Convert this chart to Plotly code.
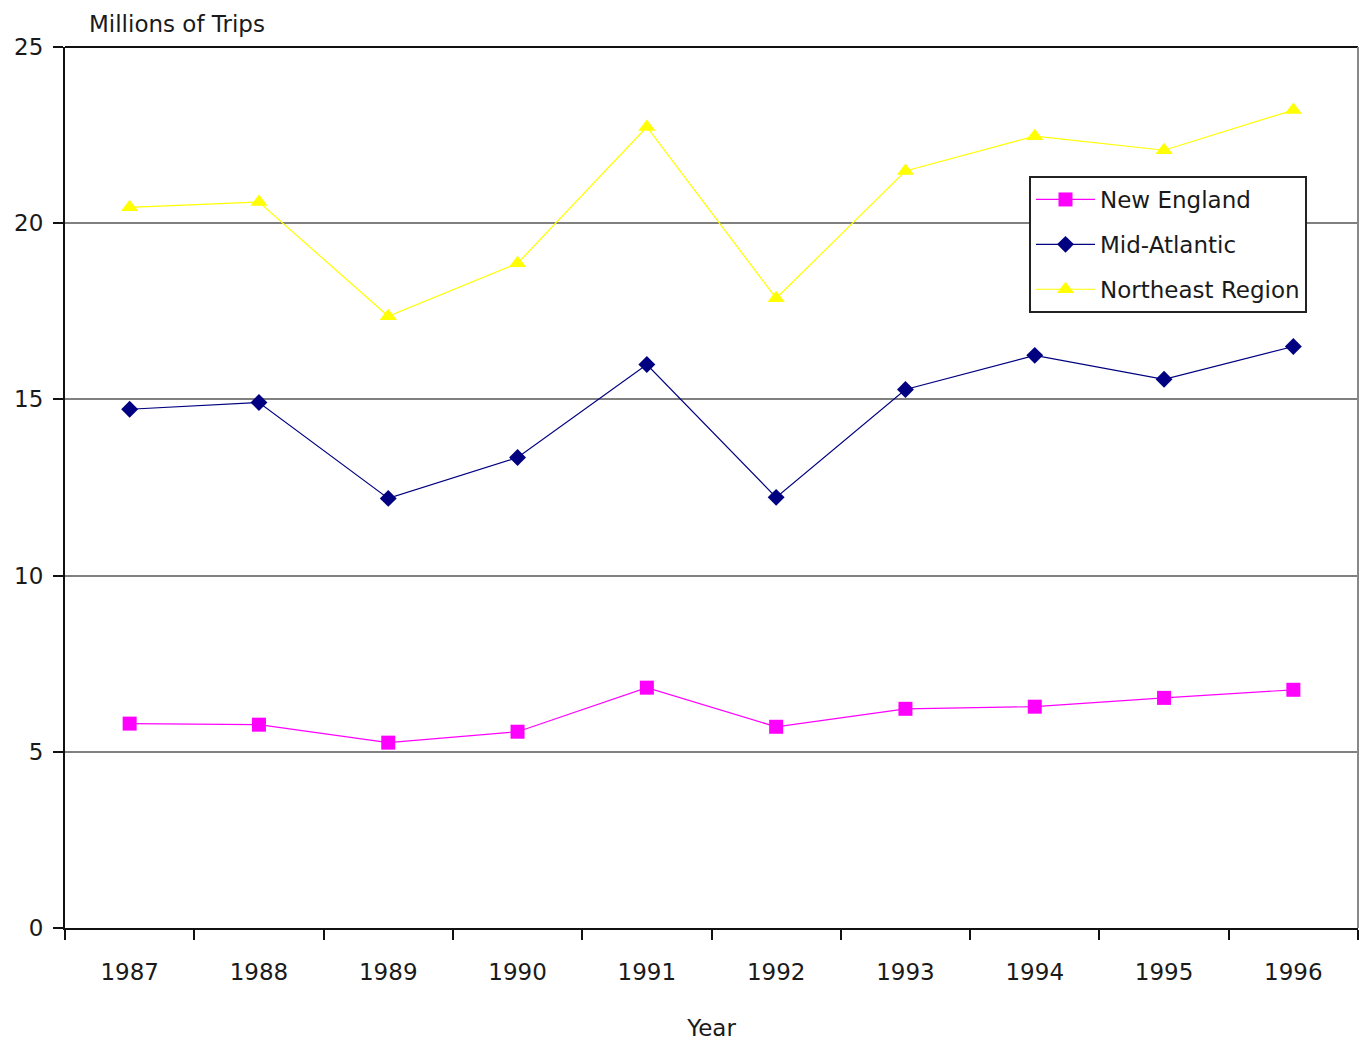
import plotly.graph_objects as go

years = ["1987", "1988", "1989", "1990", "1991", "1992", "1993", "1994", "1995", "1996"]
new_england = [5.80, 5.77, 5.26, 5.57, 6.82, 5.71, 6.22, 6.28, 6.53, 6.76]
mid_atlantic = [14.72, 14.91, 12.19, 13.35, 15.99, 12.22, 15.28, 16.25, 15.57, 16.50]
northeast = [20.45, 20.60, 17.36, 18.86, 22.73, 17.87, 21.48, 22.47, 22.07, 23.21]
y_ticks = [0, 5, 10, 15, 20, 25]

FONT = "DejaVu Sans"
TXT = "#1a1a1a"

fig = go.Figure()
fig.add_trace(go.Scatter(
    x=years, y=new_england, name="New England", mode="lines+markers",
    line=dict(color="#FF00FF", width=1.2),
    marker=dict(symbol="square", size=14, color="#FF00FF"),
    legendgroup="a",
))
fig.add_trace(go.Scatter(
    x=years, y=mid_atlantic, name="Mid-Atlantic", mode="lines+markers",
    line=dict(color="#000080", width=1.2),
    marker=dict(symbol="diamond", size=13, color="#000080"),
    legendgroup="b",
))
fig.add_trace(go.Scatter(
    x=years, y=northeast, name="Northeast Region", mode="lines+markers",
    line=dict(color="#FFFF00", width=1.2),
    marker=dict(symbol="triangle-up", size=15, color="#FFFF00"),
    legendgroup="c",
))

fig.update_layout(
    width=1364, height=1042,
    margin=dict(l=65, r=6, t=47, b=114),
    paper_bgcolor="white", plot_bgcolor="white",
    font=dict(family=FONT, size=23, color=TXT),
    showlegend=True,
    legend=dict(
        x=(1029 - 65) / 1293, y=(928 - 176) / 881, xanchor="left", yanchor="top",
        bgcolor="white", bordercolor="#222222", borderwidth=2,
        font=dict(family=FONT, size=23, color=TXT),
        traceorder="grouped", tracegroupgap=12,
        itemwidth=59,
    ),
    xaxis=dict(
        type="category", categoryorder="array", categoryarray=years,
        showline=True, linecolor="#111111", linewidth=2, mirror=False,
        ticks="outside", tickson="boundaries", ticklen=10, tickcolor="#111111", tickwidth=2,
        showgrid=False, zeroline=False,
        tickfont=dict(family=FONT, size=23, color=TXT),
        ticklabelstandoff=22,
        title=dict(text="Year", font=dict(family=FONT, size=23, color=TXT), standoff=36),
        range=[-0.5, 9.5],
    ),
    yaxis=dict(
        range=[0, 25], tickvals=y_ticks,
        showline=True, linecolor="#111111", linewidth=2,
        ticks="outside", ticklen=10, tickcolor="#111111", tickwidth=2,
        showgrid=True, gridcolor="#808080", gridwidth=2,
        zeroline=False,
        tickfont=dict(family=FONT, size=23, color=TXT),
        ticklabelstandoff=5,
    ),
)

# chart frame: top and right borders of the plot area
fig.add_shape(type="line", xref="paper", yref="paper", x0=0, x1=1, y0=1, y1=1,
              line=dict(color="#111111", width=2))
fig.add_shape(type="line", xref="paper", yref="paper", x0=1, x1=1, y0=0, y1=1,
              line=dict(color="#888888", width=2))

fig.add_annotation(
    text="Millions of Trips", xref="paper", yref="paper",
    x=(87 - 65) / 1293, y=1.0, xanchor="left", yanchor="bottom", yshift=8,
    showarrow=False, font=dict(family=FONT, size=23, color=TXT),
)

fig.write_html("out.html")
